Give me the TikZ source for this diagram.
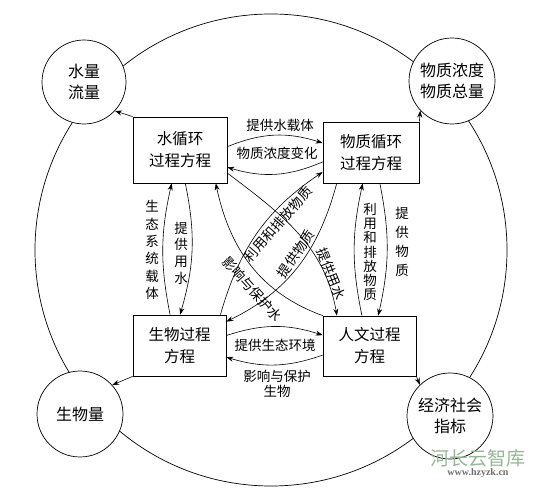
\documentclass[tikz,border=0pt]{standalone}
\usepackage{fontspec}
\newfontfamily\cjk{Noto Sans CJK SC}
\newfontfamily\wmserif{Liberation Serif}
\usetikzlibrary{arrows.meta}
\definecolor{wmgreen}{RGB}{150,182,150}
\definecolor{wmgray}{RGB}{110,110,110}
\begin{document}
\begin{tikzpicture}[x=1pt,y=1pt,
  box/.style={draw, line width=0.7pt, inner sep=0pt, align=center, font=\cjk\fontsize{15.5}{22}\selectfont},
  circ/.style={draw, circle, line width=0.7pt, fill=white, inner sep=0pt, minimum size=86pt, align=center, font=\cjk\fontsize{16}{21}\selectfont},
  arr/.style={-{Stealth[length=7pt,width=5pt]}, line width=0.6pt},
  lab/.style={font=\cjk\fontsize{13.5}{16}\selectfont, inner sep=0pt, align=center},
]
\useasboundingbox (0,0) rectangle (538,490);
\draw[line width=0.7pt] (271,240) circle[radius=236pt];

\node[circ, minimum size=84pt] (c1) at (84,408) {水量\\流量};
\node[circ] (c2) at (452,409) {物质浓度\\物质总量};
\node[circ] (c3) at (80,76) {生物量};
\node[circ] (c4) at (450,74) {经济社会\\指标};

\node[box, minimum width=94pt, minimum height=66pt] (w) at (180,340) {水循环\\过程方程};
\node[box, minimum width=96pt, minimum height=61pt] (m) at (371,337.5) {物质循环\\过程方程};
\node[box, minimum width=93pt, minimum height=61pt] (b) at (179.5,144.5) {生物过程\\方程};
\node[box, minimum width=93pt, minimum height=60pt] (h) at (369.5,144) {人文过程\\方程};

% to outer circles
\draw[arr] (w.north west) -- (c1.-43);
\draw[arr] (m.north east) -- (c2.-137);
\draw[arr] (b.south west) -- (c3.42);
\draw[arr] (h.south east) -- (c4.134);

% top pair
\draw[arr] (w.4) to[bend left=20] (m.169);
\draw[arr] (m.191) to[bend left=20] (w.-20);
\node[lab] (l1) at (280,365) {提供水载体};
\node[lab] (l2) at (277,337) {物质浓度变化};

% bottom pair
\draw[arr] (b.12) to[bend left=18] (h.167);
\draw[arr] (h.191) to[bend left=18] (b.-14);
\node[lab] (l3) at (275,145) {提供生态环境};
\node[lab, font=\cjk\fontsize{13.5}{15}\selectfont] (l4) at (277,106) {影响与保护\\生物};

% left pair
\draw[arr] (b.107) to[bend left=12] (w.-104);
\draw[arr] (w.-81) to[bend left=14] (b.89);
\node[lab, font=\cjk\fontsize{13.5}{17.3}\selectfont] (l5) at (152,240) {生\\态\\系\\统\\载\\体};
\node[lab, font=\cjk\fontsize{13.5}{16.7}\selectfont] (l6) at (181,237) {提\\供\\用\\水};

% right pair
\draw[arr] (h.104) to[bend left=12] (m.-105);
\draw[arr] (m.-74) to[bend left=12] (h.74);
\node[lab, font=\cjk\fontsize{13.5}{14.2}\selectfont] (l7) at (370,238) {利\\用\\和\\排\\放\\物\\质};
\node[lab, font=\cjk\fontsize{13.5}{19}\selectfont] (l8) at (402,248) {提\\供\\物\\质};

% diagonals
\draw[arr] (w.-26) to[out=-37,in=100] (h.137);
\draw[arr] (h.147) to[out=160,in=-78] (w.-43);
\draw[arr] (b.37) to[out=74,in=-146] (m.202);
\draw[arr] (m.222) to[out=255,in=26] (b.27);
\node[lab, rotate=-68] (l9) at (331,216) {提供用水};
\node[lab, rotate=-48] (l10) at (252,201) {影响与保护水};
\node[lab, rotate=49] (l11) at (278,266) {利用和排放物质};
\node[lab, rotate=55] (l12) at (296,236) {提供物质};

% watermark
\node[font=\cjk\fontsize{19}{19}\selectfont, text=wmgreen, inner sep=0pt] (wm1) at (478,32) {河长云智库};
\node[font=\wmserif\bfseries\fontsize{10}{10}\selectfont, text=wmgray, inner sep=0pt] (wm2) at (478,17) {www.hzyzk.cn};
\end{tikzpicture}
\end{document}
